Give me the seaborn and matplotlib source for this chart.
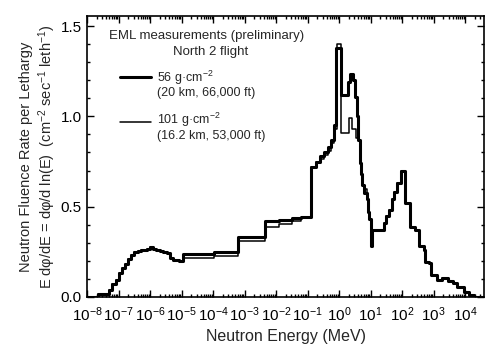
import numpy as np
import pandas as pd
import seaborn as sns
import matplotlib.pyplot as plt
from matplotlib.ticker import LogLocator, MultipleLocator, NullFormatter

# log10 of bin edges (MeV) and fluence rate per lethargy
log_e_56 = [-8.0, -7.65, -7.3, -7.2, -7.1, -7.0, -6.9, -6.8, -6.7, -6.6, -6.5, -6.4,
            -6.3, -6.2, -6.1, -6.0, -5.9, -5.8, -5.7, -5.6, -5.45, -5.38, -5.27, -5.1,
            -4.96, -3.96, -3.2, -2.37, -1.9, -1.5, -1.2, -0.89, -0.74, -0.6, -0.47,
            -0.36, -0.26, -0.16, -0.09, 0.05, 0.27, 0.33, 0.45, 0.50, 0.55, 0.60,
            0.66, 0.70, 0.74, 0.80, 0.88, 0.92, 0.96, 1.0, 1.05, 1.42, 1.48, 1.58,
            1.69, 1.74, 1.85, 1.95, 2.10, 2.26, 2.42, 2.53, 2.69, 2.74, 2.85, 2.9,
            3.11, 3.25, 3.45, 3.6, 3.75, 3.96, 4.11, 4.27, 4.6]
flux_56 = [0.0, 0.015, 0.04, 0.07, 0.095, 0.13, 0.16, 0.185, 0.21, 0.235, 0.25, 0.255,
           0.26, 0.26, 0.268, 0.275, 0.265, 0.26, 0.255, 0.25, 0.243, 0.215, 0.205, 0.198,
           0.24, 0.25, 0.33, 0.42, 0.428, 0.435, 0.44, 0.72, 0.75, 0.78, 0.80,
           0.83, 0.87, 0.95, 1.38, 1.12, 1.19, 1.235, 1.20, 1.11, 1.00, 0.87,
           0.74, 0.68, 0.62, 0.575, 0.54, 0.47, 0.43, 0.28, 0.37, 0.41, 0.446, 0.48,
           0.54, 0.58, 0.63, 0.70, 0.52, 0.39, 0.37, 0.28, 0.26, 0.196, 0.187, 0.12,
           0.094, 0.104, 0.09, 0.075, 0.057, 0.03, 0.011, 0.0, 0.0]

log_e_101 = [-8.0, -7.65, -7.3, -7.2, -7.1, -7.0, -6.9, -6.8, -6.7, -6.6, -6.5, -6.4,
             -6.3, -6.2, -6.1, -6.0, -5.9, -5.8, -5.7, -5.6, -5.45, -5.38, -5.27, -5.1,
             -4.96, -3.96, -3.2, -2.37, -1.9, -1.5, -1.2, -0.89, -0.74, -0.6, -0.47,
             -0.36, -0.26, -0.16, -0.07, 0.05, 0.31, 0.42, 0.52, 0.60,
             0.66, 0.70, 0.74, 0.80, 0.88, 0.92, 0.96, 1.0, 1.05, 1.42, 1.48, 1.58,
             1.69, 1.74, 1.85, 1.95, 2.10, 2.26, 2.42, 2.53, 2.69, 2.74, 2.85, 2.9,
             3.11, 3.25, 3.45, 3.6, 3.75, 3.96, 4.11, 4.27, 4.6]
flux_101 = [0.0, 0.015, 0.04, 0.07, 0.095, 0.13, 0.16, 0.185, 0.21, 0.235, 0.25, 0.255,
            0.26, 0.26, 0.268, 0.275, 0.265, 0.26, 0.255, 0.25, 0.243, 0.215, 0.205, 0.198,
            0.215, 0.228, 0.31, 0.39, 0.405, 0.42, 0.435, 0.72, 0.745, 0.765, 0.785,
            0.81, 0.85, 0.93, 1.40, 0.91, 0.99, 0.93, 0.88, 0.87,
            0.74, 0.68, 0.62, 0.60, 0.54, 0.47, 0.43, 0.28, 0.37, 0.41, 0.446, 0.48,
            0.54, 0.58, 0.63, 0.70, 0.52, 0.39, 0.37, 0.28, 0.26, 0.196, 0.187, 0.12,
            0.094, 0.104, 0.09, 0.075, 0.057, 0.03, 0.011, 0.0, 0.0]

df56 = pd.DataFrame({"E": 10.0 ** np.array(log_e_56), "flux": flux_56})
df101 = pd.DataFrame({"E": 10.0 ** np.array(log_e_101), "flux": flux_101})

sns.set_style("ticks")
plt.rcParams['font.family'] = ['Liberation Sans', 'DejaVu Sans']
plt.rcParams['mathtext.fontset'] = 'custom'
plt.rcParams['mathtext.rm'] = 'Liberation Sans'
plt.rcParams['mathtext.it'] = 'Liberation Sans:italic'

fig = plt.figure(figsize=(4.87, 3.51), dpi=100)
ax = fig.add_axes([0.179, 0.154, 0.815, 0.800])

sns.lineplot(data=df101, x="E", y="flux", drawstyle="steps-post", color="black",
             lw=1.1, estimator=None, sort=False, ax=ax)
sns.lineplot(data=df56, x="E", y="flux", drawstyle="steps-post", color="black",
             lw=2.2, estimator=None, sort=False, ax=ax)

ax.set_xscale("log")
ax.set_xlim(1e-8, 10 ** 4.6)
ax.set_ylim(0, 1.555)
ax.xaxis.set_major_locator(LogLocator(base=10, numticks=30))
ax.xaxis.set_minor_locator(LogLocator(base=10, subs=np.arange(2, 10), numticks=200))
ax.xaxis.set_minor_formatter(NullFormatter())
ax.yaxis.set_major_locator(MultipleLocator(0.5))
ax.yaxis.set_minor_locator(MultipleLocator(0.1))
ax.yaxis.set_major_formatter(plt.FormatStrFormatter("%.1f"))
ax.tick_params(which="both", direction="in", top=True, right=True, labelsize=11,
               width=1.0, colors="black")
ax.tick_params(which="major", length=5, pad=4)
ax.tick_params(axis="x", which="major", pad=6)
ax.tick_params(which="minor", length=2.5)
for s in ax.spines.values():
    s.set_linewidth(1.2)
    s.set_color("black")

ax.set_xlabel("Neutron Energy (MeV)", fontsize=11.5, labelpad=4)
ax.set_ylabel("Neutron Fluence Rate per Lethargy\n"
              "E dφ/dE = dφ/d ln(E)  (cm$^{-2}$ sec$^{-1}$ leth$^{-1}$)",
              fontsize=10.5, labelpad=2, linespacing=1.2)

ax.text(0.30, 0.929, "EML measurements (preliminary)", transform=ax.transAxes,
        ha="center", va="center", fontsize=9.5)
ax.text(0.31, 0.872, "North 2 flight", transform=ax.transAxes,
        ha="center", va="center", fontsize=9.5)

# legend
ax.plot([0.083, 0.161], [0.783, 0.783], color="black", lw=2.2, transform=ax.transAxes)
ax.plot([0.083, 0.161], [0.624, 0.624], color="black", lw=1.1, transform=ax.transAxes)
ax.text(0.177, 0.780, "56 g·cm$^{-2}$", transform=ax.transAxes, ha="left",
        va="center", fontsize=9)
ax.text(0.177, 0.726, "(20 km, 66,000 ft)", transform=ax.transAxes, ha="left",
        va="center", fontsize=9)
ax.text(0.177, 0.630, "101 g·cm$^{-2}$", transform=ax.transAxes, ha="left",
        va="center", fontsize=9)
ax.text(0.177, 0.574, "(16.2 km, 53,000 ft)", transform=ax.transAxes, ha="left",
        va="center", fontsize=9)

fig.savefig("out.png", dpi=100)
